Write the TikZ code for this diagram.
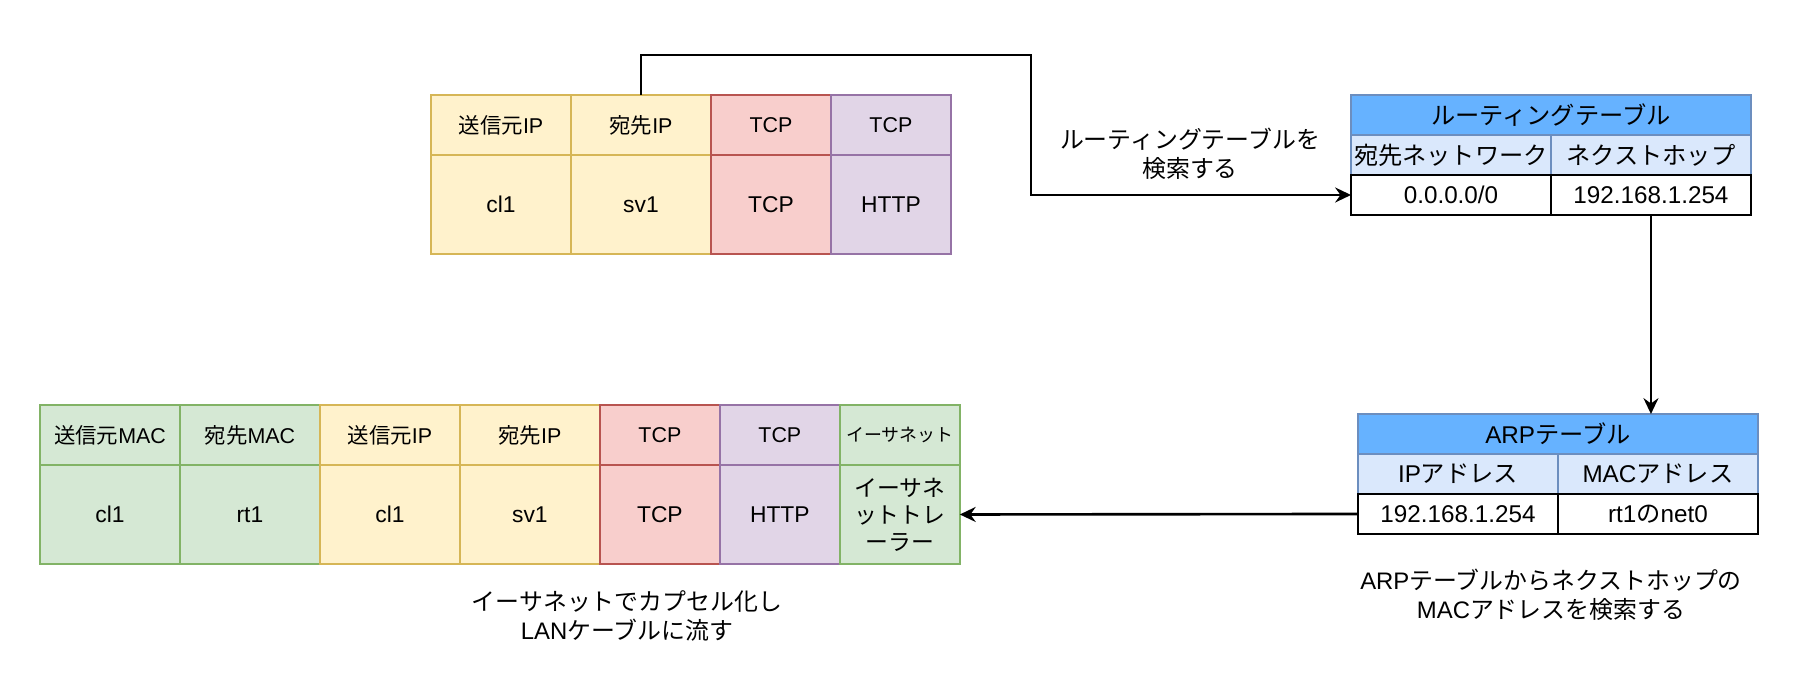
\documentclass[tikz,border=0pt]{standalone}
\usepackage{fontspec}
\setmainfont{Liberation Sans}
\newfontfamily\jp{Noto Sans CJK JP}
\usetikzlibrary{positioning,arrows.meta}
\definecolor{ipfill}{HTML}{FFF2CC}
\definecolor{ipline}{HTML}{D6B656}
\definecolor{tcpfill}{HTML}{F8CECC}
\definecolor{tcpline}{HTML}{B85450}
\definecolor{appfill}{HTML}{E1D5E7}
\definecolor{appline}{HTML}{9673A6}
\definecolor{macfill}{HTML}{D5E8D4}
\definecolor{macline}{HTML}{82B366}
\definecolor{tblhead}{HTML}{66B2FF}
\definecolor{tblsub}{HTML}{DAE8FC}
\definecolor{tblline}{HTML}{6C8EBF}
\begin{document}
\begin{tikzpicture}[x=0.02cm,y=-0.02cm] % 1 unit = 1px of the picture
\tikzstyle{mycell} = [draw, line width=1.1pt, outer sep=0pt, inner sep=0pt, align=center] % packet cell
\tikzstyle{myhead} = [mycell, minimum height=1.2cm, font=\fontsize{12.2}{15}\selectfont] % upper row of a packet
\tikzstyle{mybody} = [mycell, minimum height=1.98cm, font=\fontsize{13}{15.3}\selectfont] % lower row of a packet
\tikzstyle{wide} = [minimum width=2.8cm]
\tikzstyle{narrow} = [minimum width=2.4cm]
\tikzstyle{ipc} = [fill=ipfill, draw=ipline] % IP header
\tikzstyle{tcpc} = [fill=tcpfill, draw=tcpline] % TCP header
\tikzstyle{appc} = [fill=appfill, draw=appline] % payload
\tikzstyle{macc} = [fill=macfill, draw=macline] % ethernet
\tikzstyle{mytable} = [draw, line width=1.1pt, outer sep=0pt, inner sep=0pt, minimum height=0.8cm, font=\fontsize{13.8}{16}\selectfont]
\tikzstyle{tabhead} = [mytable, fill=tblhead, draw=tblline, minimum width=8cm] % table title
\tikzstyle{tabsub} = [mytable, fill=tblsub, draw=tblline, minimum width=4cm] % column names
\tikzstyle{tabrow} = [mytable, fill=white, draw=black, line width=1.5pt, minimum width=4cm] % data row
\tikzstyle{mylabel} = [align=center, font=\fontsize{13.6}{16.3}\selectfont]
\tikzstyle{myarrow} = [line width=1.5pt, -{Stealth[length=9pt,width=8.5pt,inset=3pt]}]

\useasboundingbox (0,0) rectangle (1812,696);
%
% IP packet (top)
\node[myhead, wide, ipc, anchor=north west] (sip) at (431,95) {{\jp 送信元}IP};
\node[myhead, wide, ipc, right=0pt of sip] (dip) {{\jp 宛先}IP};
\node[myhead, narrow, tcpc, right=0pt of dip] (tcp) {TCP};
\node[myhead, narrow, appc, right=0pt of tcp] (app) {TCP};
\node[mybody, wide, ipc, below=0pt of sip] (sipv) {cl1};
\node[mybody, wide, ipc, below=0pt of dip] (dipv) {sv1};
\node[mybody, narrow, tcpc, below=0pt of tcp] (tcpv) {TCP};
\node[mybody, narrow, appc, below=0pt of app] (appv) {HTTP};
%
% ethernet frame (bottom)
\node[myhead, wide, macc, anchor=north west] (smac) at (40,405) {{\jp 送信元}MAC};
\node[myhead, wide, macc, right=0pt of smac] (dmac) {{\jp 宛先}MAC};
\node[myhead, wide, ipc, right=0pt of dmac] (sipb) {{\jp 送信元}IP};
\node[myhead, wide, ipc, right=0pt of sipb] (dipb) {{\jp 宛先}IP};
\node[myhead, narrow, tcpc, right=0pt of dipb] (tcpb) {TCP};
\node[myhead, narrow, appc, right=0pt of tcpb] (appb) {TCP};
\node[myhead, narrow, macc, right=0pt of appb, font=\fontsize{10.2}{12}\selectfont] (trl) {{\jp イーサネット}};
\node[mybody, wide, macc, below=0pt of smac] (smacv) {cl1};
\node[mybody, wide, macc, below=0pt of dmac] (dmacv) {rt1};
\node[mybody, wide, ipc, below=0pt of sipb] (sipbv) {cl1};
\node[mybody, wide, ipc, below=0pt of dipb] (dipbv) {sv1};
\node[mybody, narrow, tcpc, below=0pt of tcpb] (tcpbv) {TCP};
\node[mybody, narrow, appc, below=0pt of appb] (appbv) {HTTP};
\node[mybody, narrow, macc, below=0pt of trl] (trlv) {{\jp イーサネ}\\{\jp ットトレ}\\{\jp ーラー}};
%
% routing table
\node[tabhead, anchor=north west] (rt) at (1351,95) {{\jp ルーティングテーブル}};
\node[tabsub, below right=0pt and 0pt of rt.south west] (rtdst) {{\jp 宛先ネットワーク}};
\node[tabsub, right=0pt of rtdst] (rthop) {{\jp ネクストホップ}};
\node[tabrow, below=0pt of rtdst] (rtnet) {0.0.0.0/0};
\node[tabrow, below=0pt of rthop] (rtgw) {192.168.1.254};
%
% ARP table
\node[tabhead, anchor=north west] (arp) at (1358,414) {ARP{\jp テーブル}};
\node[tabsub, below right=0pt and 0pt of arp.south west] (arpipc) {IP{\jp アドレス}};
\node[tabsub, right=0pt of arpipc] (arpmacc) {MAC{\jp アドレス}};
\node[tabrow, below=0pt of arpipc] (arpip) {192.168.1.254};
\node[tabrow, below=0pt of arpmacc] (arpmac) {rt1{\jp の}net0};
%
% notes
\node[mylabel] (rtnote) at (1190,154) {{\jp ルーティングテーブルを}\\{\jp 検索する}};
\node[mylabel] (arpnote) at (1551,595) {ARP{\jp テーブルからネクストホップの}\\MAC{\jp アドレスを検索する}};
\node[mylabel] (lannote) at (627,616) {{\jp イーサネットでカプセル化し}\\LAN{\jp ケーブルに流す}};
%
% arrows
\coordinate (bend) at (1031,55);
\draw[myarrow] (dip.north) |- (bend) |- (rtnet.west);
\draw[myarrow] (rtgw.south) -- (rtgw.south |- arp.north);
\draw[myarrow] (arpip.west) -- (trlv.east);
\end{tikzpicture}
\end{document}
